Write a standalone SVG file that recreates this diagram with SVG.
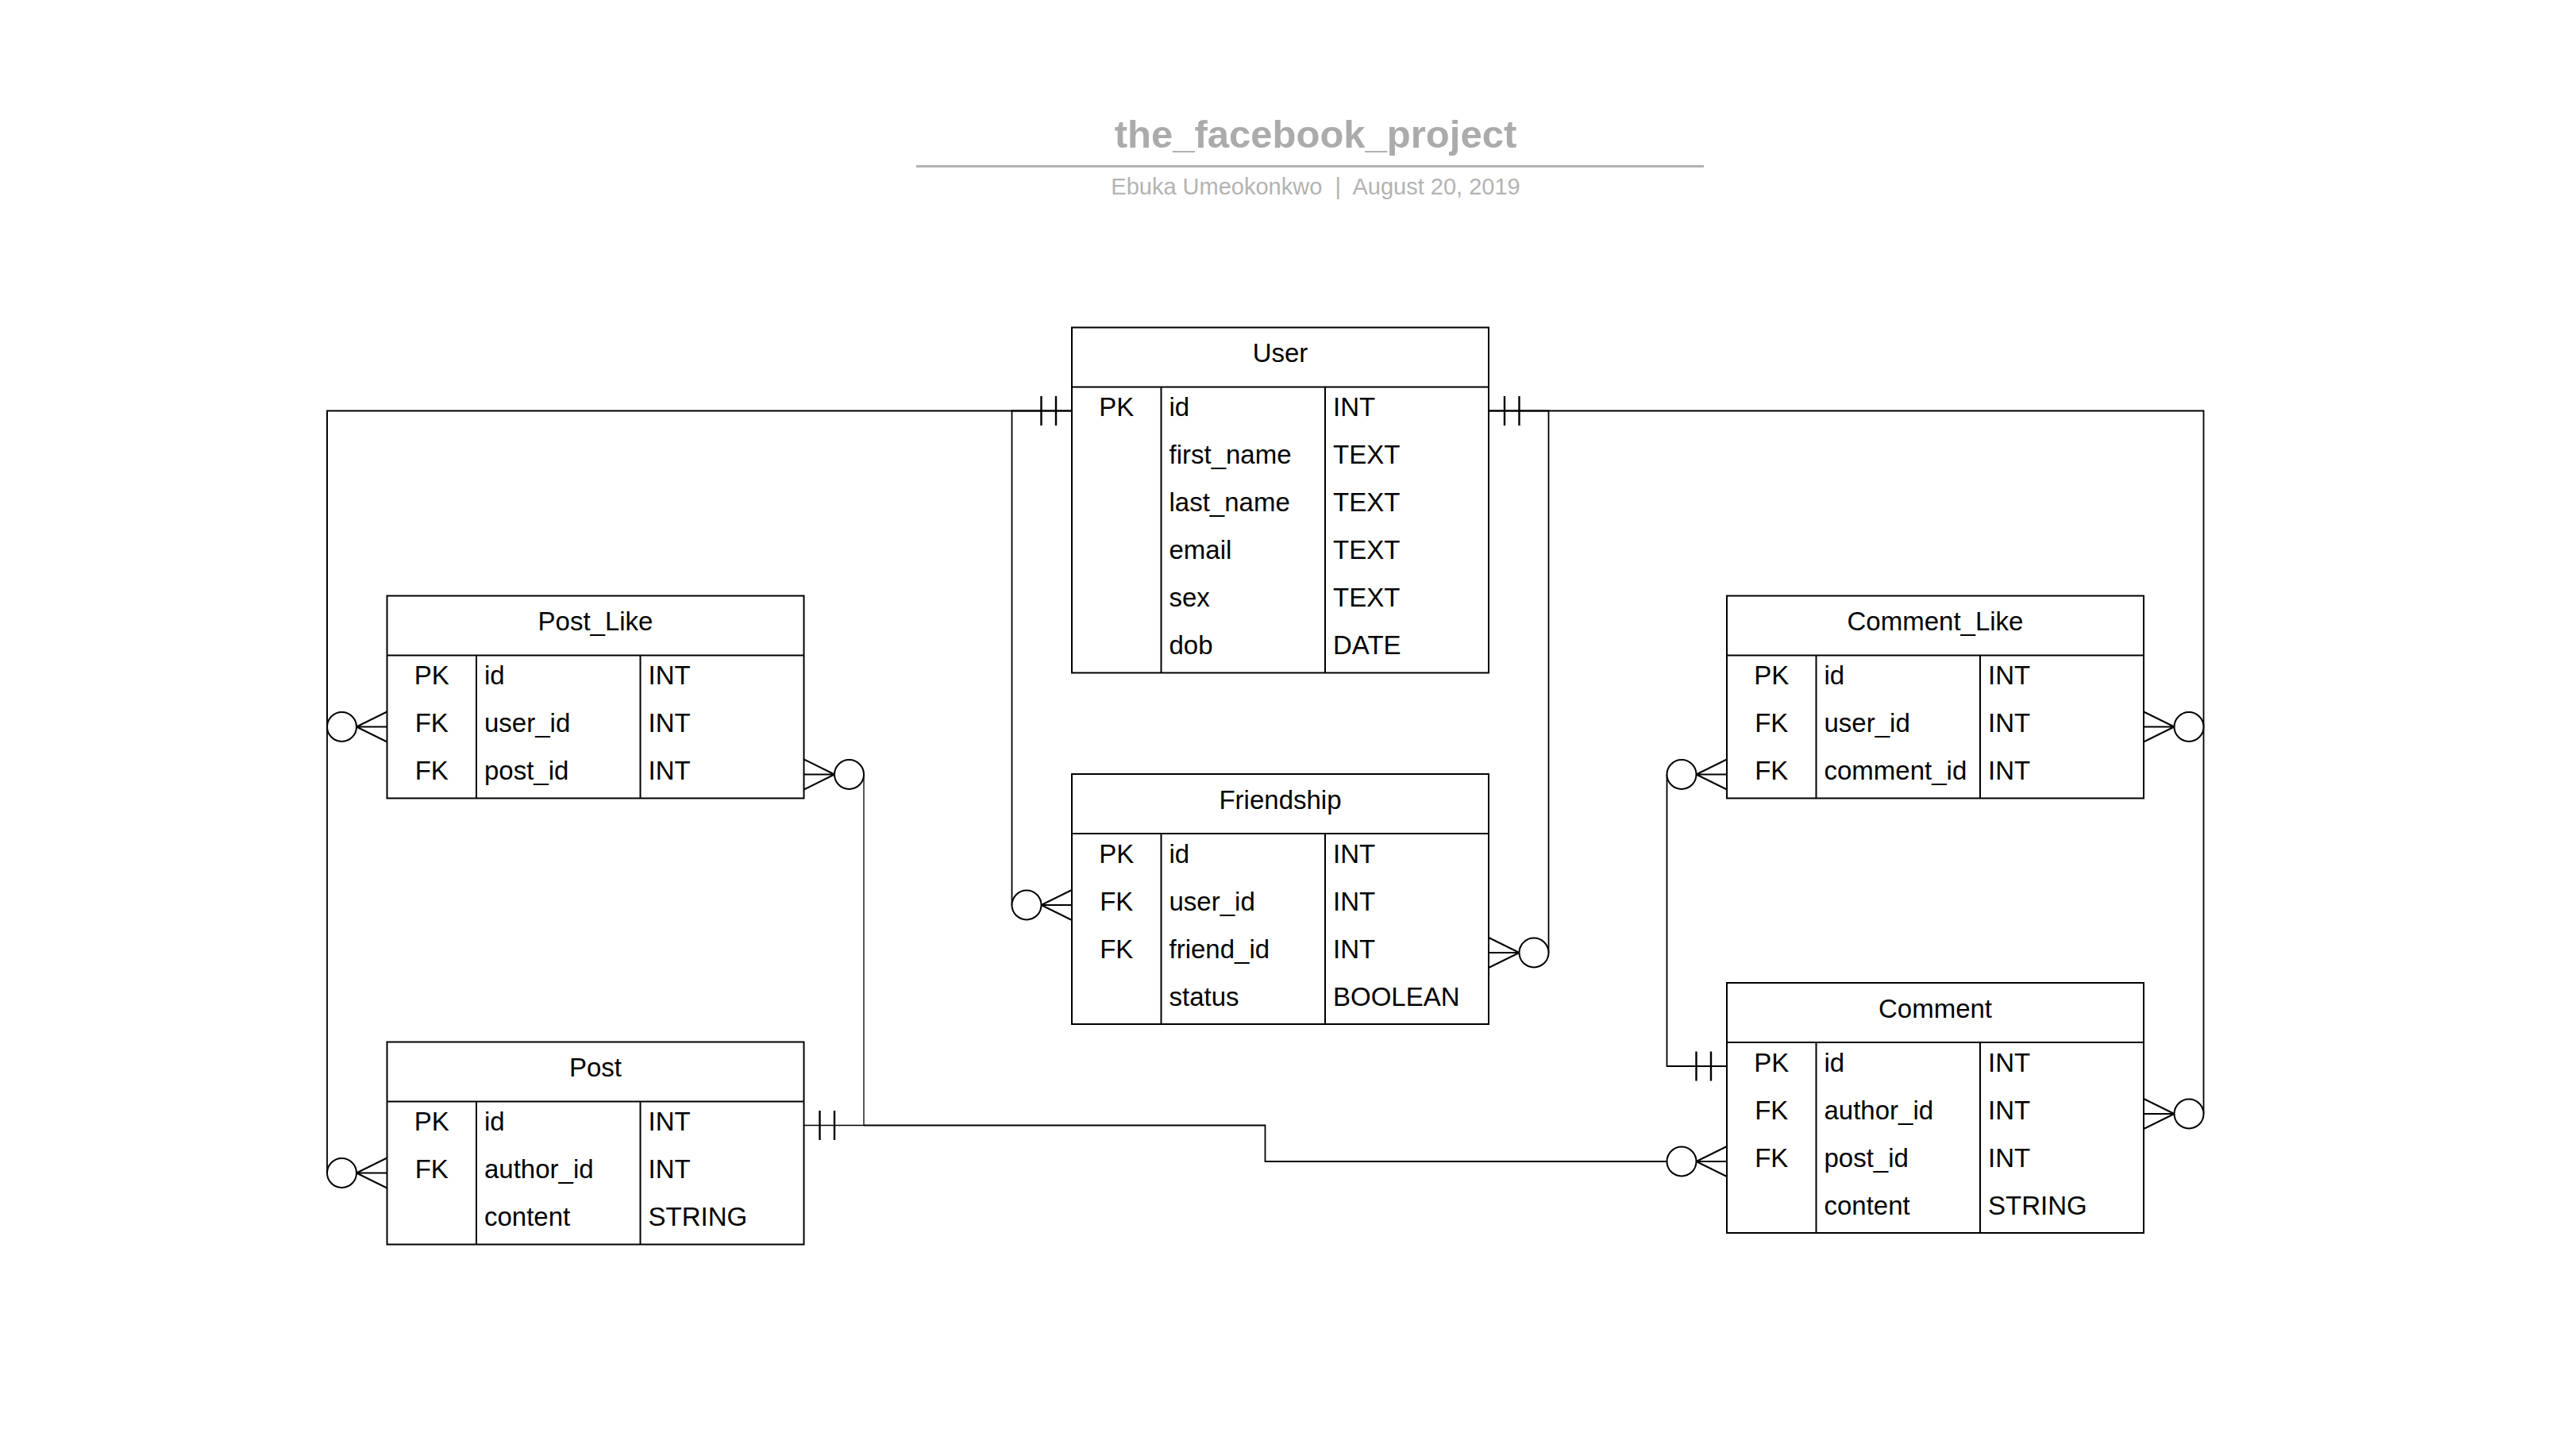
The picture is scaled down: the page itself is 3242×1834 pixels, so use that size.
<svg xmlns="http://www.w3.org/2000/svg" xmlns:xlink="http://www.w3.org/1999/xlink" width="3242" height="1834" viewBox="0 0 3242 1834">
<style>
.tb{fill:#fff;stroke:#000;stroke-width:2}
.dv{stroke:#000;stroke-width:2;fill:none}
.t{font-family:"Liberation Sans",Arial,sans-serif;font-size:33px;fill:#000}
.c{text-anchor:middle}
.cn{fill:none;stroke:#000;stroke-width:1.8}
.thin{stroke-width:1.3}
.sym{fill:#fff;stroke:#000;stroke-width:2}
.tick{stroke:#000;stroke-width:2.4;fill:none}
.ttl{font-family:"Liberation Sans",Arial,sans-serif;font-weight:bold;font-size:49px;fill:#ababab;text-anchor:middle}
.sub{font-family:"Liberation Sans",Arial,sans-serif;font-size:29px;fill:#b3b3b3;text-anchor:middle}
</style>
<defs>
<g id="zm">
<circle class="sym" cx="-57" cy="0" r="18.5"/>
<path class="dv" d="M-38.5,0 L0,-19 M-38.5,0 L0,0 M-38.5,0 L0,19"/>
</g>
<g id="one">
<path class="tick" d="M-20,-18.5 V18.5 M-38.5,-18.5 V18.5"/>
</g>
</defs>
<rect x="0" y="0" width="3242" height="1834" fill="#fff"/>

<g id="title">
<text class="ttl" x="1657" y="186">the_facebook_project</text>
<line x1="1154" y1="209.5" x2="2146" y2="209.5" stroke="#b3b3b3" stroke-width="3"/>
<text class="sub" x="1657" y="245" xml:space="preserve">Ebuka Umeokonkwo  |  August 20, 2019</text>
</g>

<g id="connectors">
<path class="cn" d="M1350,517.5 H412 V915.5"/>
<path class="cn" d="M412,517.5 V1477.5"/>
<path class="cn" d="M1350,517.5 H1274.5 V1140"/>
<path class="cn" d="M1875,517.5 H1950.5 V1200"/>
<path class="cn" d="M1875,517.5 H2775.5 V915.5"/>
<path class="cn" d="M2775.5,915.5 V1403"/>
<path class="cn thin" d="M1012.5,1417.5 H1088 V975.5"/>
<path class="cn" d="M1088,1417.5 H1593.5 V1463 H2099.5"/>
<path class="cn" d="M2175,1343 H2099.5 V975.5"/>
<use xlink:href="#one" href="#one" transform="translate(1350,517.5)"/>
<use xlink:href="#one" href="#one" transform="translate(1875,517.5) scale(-1,1)"/>
<use xlink:href="#one" href="#one" transform="translate(1012.5,1417.5) scale(-1,1)"/>
<use xlink:href="#one" href="#one" transform="translate(2175,1343)"/>
<use xlink:href="#zm" href="#zm" transform="translate(487.5,915.5)"/>
<use xlink:href="#zm" href="#zm" transform="translate(487.5,1477.5)"/>
<use xlink:href="#zm" href="#zm" transform="translate(1012.5,975.5) scale(-1,1)"/>
<use xlink:href="#zm" href="#zm" transform="translate(1350,1140)"/>
<use xlink:href="#zm" href="#zm" transform="translate(1875,1200) scale(-1,1)"/>
<use xlink:href="#zm" href="#zm" transform="translate(2700,915.5) scale(-1,1)"/>
<use xlink:href="#zm" href="#zm" transform="translate(2700,1403) scale(-1,1)"/>
<use xlink:href="#zm" href="#zm" transform="translate(2175,975.5)"/>
<use xlink:href="#zm" href="#zm" transform="translate(2175,1463)"/>
</g>

<g id="User" transform="translate(1350,412.5)">
<rect class="tb" x="0" y="0" width="525" height="435"/>
<path class="dv" d="M0,75 H525 M112.5,75 V435 M319,75 V435"/>
<text class="t c" x="262.5" y="43.5">User</text>
<text class="t c" x="56.25" y="111.5">PK</text>
<text class="t" x="122.5" y="111.5">id</text><text class="t" x="329" y="111.5">INT</text>
<text class="t" x="122.5" y="171.5">first_name</text><text class="t" x="329" y="171.5">TEXT</text>
<text class="t" x="122.5" y="231.5">last_name</text><text class="t" x="329" y="231.5">TEXT</text>
<text class="t" x="122.5" y="291.5">email</text><text class="t" x="329" y="291.5">TEXT</text>
<text class="t" x="122.5" y="351.5">sex</text><text class="t" x="329" y="351.5">TEXT</text>
<text class="t" x="122.5" y="411.5">dob</text><text class="t" x="329" y="411.5">DATE</text>
</g>

<g id="Friendship" transform="translate(1350,975)">
<rect class="tb" x="0" y="0" width="525" height="315"/>
<path class="dv" d="M0,75 H525 M112.5,75 V315 M319,75 V315"/>
<text class="t c" x="262.5" y="43.5">Friendship</text>
<text class="t c" x="56.25" y="111.5">PK</text>
<text class="t" x="122.5" y="111.5">id</text><text class="t" x="329" y="111.5">INT</text>
<text class="t c" x="56.25" y="171.5">FK</text>
<text class="t" x="122.5" y="171.5">user_id</text><text class="t" x="329" y="171.5">INT</text>
<text class="t c" x="56.25" y="231.5">FK</text>
<text class="t" x="122.5" y="231.5">friend_id</text><text class="t" x="329" y="231.5">INT</text>
<text class="t" x="122.5" y="291.5">status</text><text class="t" x="329" y="291.5">BOOLEAN</text>
</g>

<g id="Post_Like" transform="translate(487.5,750.5)">
<rect class="tb" x="0" y="0" width="525" height="255"/>
<path class="dv" d="M0,75 H525 M112.5,75 V255 M319,75 V255"/>
<text class="t c" x="262.5" y="43.5">Post_Like</text>
<text class="t c" x="56.25" y="111.5">PK</text>
<text class="t" x="122.5" y="111.5">id</text><text class="t" x="329" y="111.5">INT</text>
<text class="t c" x="56.25" y="171.5">FK</text>
<text class="t" x="122.5" y="171.5">user_id</text><text class="t" x="329" y="171.5">INT</text>
<text class="t c" x="56.25" y="231.5">FK</text>
<text class="t" x="122.5" y="231.5">post_id</text><text class="t" x="329" y="231.5">INT</text>
</g>

<g id="Post" transform="translate(487.5,1312.5)">
<rect class="tb" x="0" y="0" width="525" height="255"/>
<path class="dv" d="M0,75 H525 M112.5,75 V255 M319,75 V255"/>
<text class="t c" x="262.5" y="43.5">Post</text>
<text class="t c" x="56.25" y="111.5">PK</text>
<text class="t" x="122.5" y="111.5">id</text><text class="t" x="329" y="111.5">INT</text>
<text class="t c" x="56.25" y="171.5">FK</text>
<text class="t" x="122.5" y="171.5">author_id</text><text class="t" x="329" y="171.5">INT</text>
<text class="t" x="122.5" y="231.5">content</text><text class="t" x="329" y="231.5">STRING</text>
</g>

<g id="Comment_Like" transform="translate(2175,750.5)">
<rect class="tb" x="0" y="0" width="525" height="255"/>
<path class="dv" d="M0,75 H525 M112.5,75 V255 M319,75 V255"/>
<text class="t c" x="262.5" y="43.5">Comment_Like</text>
<text class="t c" x="56.25" y="111.5">PK</text>
<text class="t" x="122.5" y="111.5">id</text><text class="t" x="329" y="111.5">INT</text>
<text class="t c" x="56.25" y="171.5">FK</text>
<text class="t" x="122.5" y="171.5">user_id</text><text class="t" x="329" y="171.5">INT</text>
<text class="t c" x="56.25" y="231.5">FK</text>
<text class="t" x="122.5" y="231.5">comment_id</text><text class="t" x="329" y="231.5">INT</text>
</g>

<g id="Comment" transform="translate(2175,1238)">
<rect class="tb" x="0" y="0" width="525" height="315"/>
<path class="dv" d="M0,75 H525 M112.5,75 V315 M319,75 V315"/>
<text class="t c" x="262.5" y="43.5">Comment</text>
<text class="t c" x="56.25" y="111.5">PK</text>
<text class="t" x="122.5" y="111.5">id</text><text class="t" x="329" y="111.5">INT</text>
<text class="t c" x="56.25" y="171.5">FK</text>
<text class="t" x="122.5" y="171.5">author_id</text><text class="t" x="329" y="171.5">INT</text>
<text class="t c" x="56.25" y="231.5">FK</text>
<text class="t" x="122.5" y="231.5">post_id</text><text class="t" x="329" y="231.5">INT</text>
<text class="t" x="122.5" y="291.5">content</text><text class="t" x="329" y="291.5">STRING</text>
</g>
</svg>
